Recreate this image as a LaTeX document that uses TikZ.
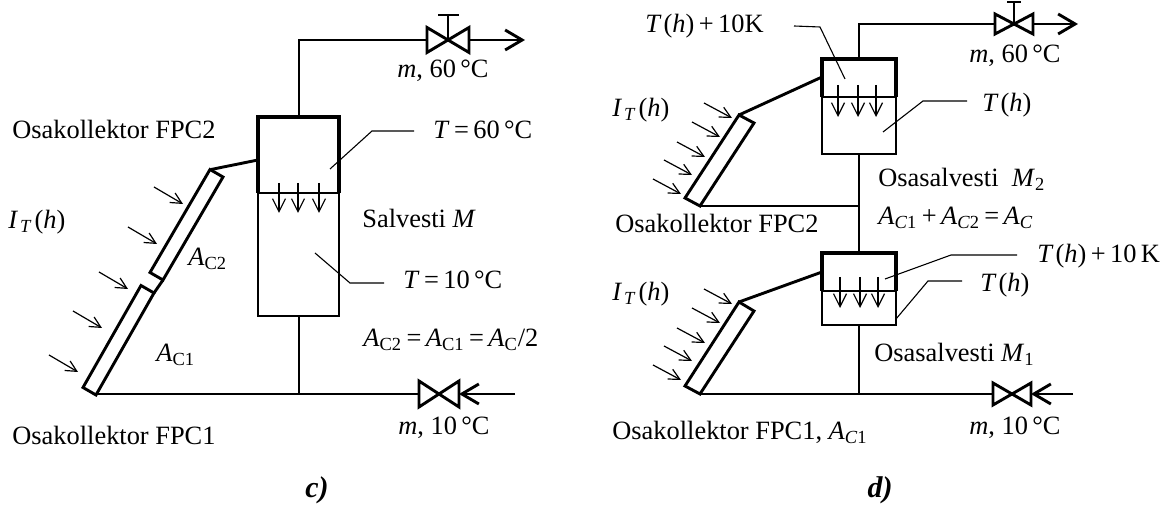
\documentclass[tikz,border=0pt]{standalone}
\usepackage{fontspec}
\setmainfont{Liberation Serif}
\usetikzlibrary{arrows.meta,calc}
\begin{document}
\begin{tikzpicture}[x=0.5pt,y=-0.5pt,
  pipe/.style={line width=1.45pt,line join=miter},
  thk/.style={line width=2.1pt},
  thinl/.style={line width=0.55pt},
  pipearrow/.style={pipe,-{Straight Barb[length=8.5pt,width=10pt,line width=1.45pt]}},
  dropar/.style={line width=0.6pt,-{Straight Barb[length=6.5pt,width=6.5pt,line width=0.6pt]}},
  sunar/.style={line width=0.6pt,-{Straight Barb[length=5.5pt,width=5.5pt,line width=0.6pt]}},
  lbl/.style={inner sep=0pt,anchor=base west,font=\fontsize{13.2pt}{15pt}\selectfont},
  lblc/.style={lbl,anchor=base},
  figcap/.style={inner sep=0pt,anchor=base,font=\fontsize{15pt}{17pt}\selectfont\bfseries\itshape}
]
\useasboundingbox (0,0) rectangle (1169,517);

%%%%%%%%%%%%%%%% LEFT DIAGRAM (c) %%%%%%%%%%%%%%%%
% tank
\coordinate (tTL) at (258,117); \coordinate (tTR) at (339,117);
\coordinate (tML) at (258,193); \coordinate (tMR) at (339,193);
\coordinate (tBL) at (258,316); \coordinate (tBR) at (339,316);
\coordinate (tTop) at (299,117); \coordinate (tBot) at (299,316);
\draw[thk] (tML) -- (tTL) -- (tTR) -- (tMR);
\draw[pipe] (tML) -- (tBL) -- (tBR) -- (tMR);
\draw[thinl] (tML) -- (tMR);
\foreach \xx in {279,298,319} \draw[dropar] (\xx,183) -- (\xx,213);

% top pipe and valve
\coordinate (cTopCorner) at (299,40);
\coordinate (v1) at (448,40);
\coordinate (v1L) at (427,40); \coordinate (v1R) at (469,40);
\coordinate (out1) at (525,40);
\coordinate (v1s) at (448,15);
\draw[pipe] (tTop) -- (cTopCorner) -- (v1L);
\draw[pipe] (427,27.5) -- (469,52.5) -- (469,27.5) -- (427,52.5) -- cycle;
\draw[pipe] (v1) -- (v1s);
\draw[pipe] (438,15) -- (459,15);
\draw[pipearrow] (v1R) -- (out1);
\node[lblc] (m60c) at (443,78) {\textit{m}, 60\,°C};

% bottom pipe and valve
\coordinate (cBotJ) at (299,394);
\coordinate (col1B) at (96,394);
\coordinate (v2L) at (419,394); \coordinate (v2R) at (459,394);
\coordinate (in1) at (515,394);
\draw[pipe] (tBot) -- (cBotJ);
\draw[pipe] (col1B) -- (v2L);
\draw[pipe] (419,381) -- (459,407) -- (459,381) -- (419,407) -- cycle;
\draw[pipearrow] (in1) -- (v2R);
\node[lblc] (m10c) at (444,435) {\textit{m}, 10\,°C};

% collectors
\draw[pipe] (96,395) -- (154,293) -- (141,285.5) -- (83,387.5) -- cycle;
\draw[pipe] (163,280) -- (223,177) -- (210,169.5) -- (150,272.5) -- cycle;
\draw[pipe] (154,293) -- (163,280);
\coordinate (col2T) at (211,169.5);
\coordinate (tankIn1) at (258,160);
\draw[pipe] (col2T) -- (tankIn1);
\foreach \ex/\ey in {183/204,157/244,128/289,102/328,78/372}
  \draw[sunar] (\ex-29,\ey-17) -- (\ex,\ey);

% leaders
\draw[thinl] (330,169) -- (372,131) -- (414,131);
\draw[thinl] (315,253) -- (350,283) -- (384,283);

% labels
\node[lbl] (fpc2c) at (12,139) {Osakollektor FPC2};
\node[lbl] (itc) at (8,229) {\textit{I}\kern1pt\textsubscript{\textit{T}}\kern1pt(\textit{h})};
\node[lbl] (ac2) at (188,266) {\textit{A}\textsubscript{C2}};
\node[lbl] (ac1) at (156,362) {\textit{A}\textsubscript{C1}};
\node[lbl] (fpc1c) at (12,445) {Osakollektor FPC1};
\node[lbl] (t60) at (433,139) {\textit{T}\,=\,60\,°C};
\node[lbl] (salv) at (362,228) {Salvesti \textit{M}};
\node[lbl] (t10) at (403,289) {\textit{T}\,=\,10\,°C};
\node[lbl] (aeq) at (363,347) {\textit{A}\textsubscript{C2}\,=\,\textit{A}\textsubscript{C1}\,=\,\textit{A}\textsubscript{C}/2};
\node[figcap] (capc) at (317,498) {c)};

%%%%%%%%%%%%%%%% RIGHT DIAGRAM (d) %%%%%%%%%%%%%%%%
% upper tank
\coordinate (uTL) at (822,59); \coordinate (uTR) at (896,59);
\coordinate (uML) at (822,97); \coordinate (uMR) at (896,97);
\coordinate (uBL) at (822,154); \coordinate (uBR) at (896,154);
\coordinate (uTop) at (859,59); \coordinate (uBot) at (859,154);
\draw[thk] (uML) -- (uTL) -- (uTR) -- (uMR);
\draw[pipe] (uML) -- (uBL) -- (uBR) -- (uMR);
\draw[thinl] (uML) -- (uMR);
\foreach \xx in {838,858,876} \draw[dropar] (\xx,85) -- (\xx,117);

% lower tank
\coordinate (lTL) at (822,253); \coordinate (lTR) at (896,253);
\coordinate (lML) at (822,291); \coordinate (lMR) at (896,291);
\coordinate (lBL) at (822,325); \coordinate (lBR) at (896,325);
\coordinate (lTop) at (859,253); \coordinate (lBot) at (859,325);
\draw[thk] (lML) -- (lTL) -- (lTR) -- (lMR);
\draw[pipe] (lML) -- (lBL) -- (lBR) -- (lMR);
\draw[thinl] (lML) -- (lMR);
\foreach \xx in {840,860,878} \draw[dropar] (\xx,277) -- (\xx,308);

% pipes
\coordinate (dTopCorner) at (859,24);
\coordinate (v3) at (1014,24);
\coordinate (v3L) at (995,24); \coordinate (v3R) at (1033,24);
\coordinate (out2) at (1078,24);
\draw[pipe] (uTop) -- (dTopCorner) -- (v3L);
\draw[pipe] (995,14) -- (1033,34) -- (1033,14) -- (995,34) -- cycle;
\draw[pipe] (v3) -- (1014,2);
\draw[pipe] (1007,2) -- (1021,2);
\draw[pipearrow] (v3R) -- (out2);
\node[lblc] (m60d) at (1015,63) {\textit{m}, 60\,°C};

\coordinate (midJ) at (859,206);
\coordinate (botJ) at (859,394);
\draw[pipe] (uBot) -- (lTop);
\draw[pipe] (lBot) -- (botJ);
\coordinate (dcol2B) at (700,206);
\draw[pipe] (dcol2B) -- (midJ);
\coordinate (dcol1B) at (700,394);
\coordinate (v4L) at (993,394); \coordinate (v4R) at (1031,394);
\coordinate (in2) at (1073,394);
\draw[pipe] (dcol1B) -- (v4L);
\draw[pipe] (993,383) -- (1031,405) -- (1031,383) -- (993,405) -- cycle;
\draw[pipearrow] (in2) -- (v4R);
\node[lblc] (m10d) at (1015,435) {\textit{m}, 10\,°C};

% collectors
\draw[pipe] (700,206) -- (754,123) -- (739,115) -- (685,198) -- cycle;
\draw[pipe] (700,394) -- (754,311) -- (739,302) -- (685,386) -- cycle;
\coordinate (dc2T) at (739,115); \coordinate (uIn) at (822,77);
\coordinate (dc1T) at (739,302); \coordinate (lIn) at (822,272);
\draw[pipe] (dc2T) -- (uIn);
\draw[pipe] (dc1T) -- (lIn);
\foreach \ex/\ey in {732/118,720/137,705/157,692/175,681/194}{
  \draw[sunar] (\ex-28,\ey-15) -- (\ex,\ey);
  \draw[sunar] (\ex-28,\ey+171) -- (\ex,\ey+186);
}

% leaders
\draw[thinl] (794,26) -- (820,27) -- (845,79);
\draw[thinl] (883,132) -- (923,101) -- (967,101);
\draw[thinl] (885,279) -- (951,255) -- (1017,255);
\draw[thinl] (896,319) -- (928,281) -- (962,281);

% labels
\node[lbl] (th10a) at (645,33) {\textit{T}\kern1pt(\textit{h})\,+\,10K};
\node[lbl] (itd2) at (612,117) {\textit{I}\kern1pt\textsubscript{\textit{T}}\kern1pt(\textit{h})};
\node[lbl] (fpc2d) at (615,233) {Osakollektor FPC2};
\node[lbl] (thu) at (982,112) {\textit{T}\kern1pt(\textit{h})};
\node[lbl] (m2) at (878,187) {Osasalvesti\ \ \textit{M}\textsubscript{2}};
\node[lbl] (asum) at (878,225) {\textit{A}\textsubscript{\textit{C}1}\,+\,\textit{A}\textsubscript{\textit{C}2}\,=\,\textit{A}\textsubscript{\textit{C}}};
\node[lbl] (th10b) at (1037,263) {\textit{T}\kern1pt(\textit{h})\,+\,10\,K};
\node[lbl] (thl) at (980,292) {\textit{T}\kern1pt(\textit{h})};
\node[lbl] (m1) at (874,362) {Osasalvesti \textit{M}\textsubscript{1}};
\node[lbl] (itd1) at (612,301) {\textit{I}\kern1pt\textsubscript{\textit{T}}\kern1pt(\textit{h})};
\node[lbl] (fpc1d) at (612,440) {Osakollektor FPC1, \textit{A}\textsubscript{\textit{C}1}};
\node[figcap] (capd) at (880,498) {d)};
\end{tikzpicture}
\end{document}
